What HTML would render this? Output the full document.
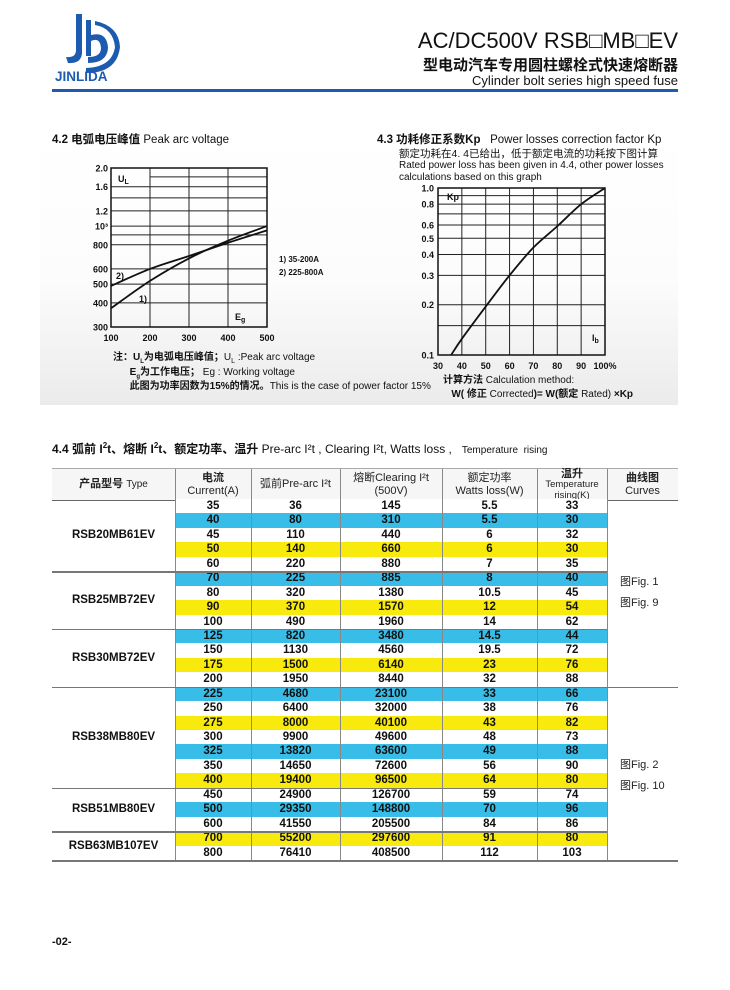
<!DOCTYPE html>
<html><head><meta charset="utf-8">
<style>
body{margin:0;background:#fff;}
#page{position:relative;width:730px;height:990px;overflow:hidden;background:#fff;font-family:"Liberation Sans","Noto Sans CJK SC",sans-serif;color:#111;}
.a{position:absolute;white-space:nowrap;}
sub{line-height:0;}
</style></head><body>
<div id="page">
<svg class="a" style="left:0;top:0" width="730" height="130">
 <g fill="#1d5bb0">
  <rect x="76" y="14" width="6" height="40"/>
  <path d="M82 52 Q82 64 68 63 L66 57 Q76 58 76 50 Z"/>
  <rect x="86" y="20" width="5" height="36"/>
  <path d="M91 35 Q107 31 108 48 Q107 63 88 63 L88 57 Q101 57 101 48 Q100 37 91 41 Z"/>
  <path d="M86 68 Q112 67 115 47 Q113 28 95 25 L95 21 Q119 26 120 47 Q117 73 86 73 Z"/>
 </g>
 <text x="55" y="81" font-family="Liberation Sans" font-weight="bold" font-size="13.5" fill="#1d5bb0">JINLIDA</text>
 <rect x="52" y="89" width="626" height="3" fill="#1d5bb0"/>
</svg>
<div class="a" style="right:52px;top:28px;font-size:22px;">AC/DC500V RSB□MB□EV</div>
<div class="a" style="right:52px;top:54px;font-size:15px;font-weight:bold;">型电动汽车专用圆柱螺栓式快速熔断器</div>
<div class="a" style="right:52px;top:73px;font-size:13px;">Cylinder bolt series high speed fuse</div>

<div class="a" style="left:40px;top:128px;width:638px;height:277px;background:linear-gradient(#fff 0%,#fcfcfc 55%,#ebebeb 100%);"></div>

<div class="a" style="left:52px;top:131px;font-size:11.5px;"><b>4.2 电弧电压峰值</b> Peak arc voltage</div>
<div class="a" style="left:377px;top:131px;font-size:11.5px;"><b>4.3 功耗修正系数Kp</b>&nbsp;&nbsp; Power losses correction factor Kp</div>
<div class="a" style="left:399px;top:146px;font-size:10.5px;">额定功耗在4. 4已给出，低于额定电流的功耗按下图计算</div>
<div class="a" style="left:399px;top:160px;font-size:10px;line-height:11.5px;">Rated power loss has been given in 4.4, other power losses<br>calculations based on this graph</div>

<svg class="a" id="charts" style="left:0;top:0" width="730" height="410"></svg>

<div class="a" style="left:113px;top:351px;font-size:10px;line-height:14.5px;"><b>注：U<sub style="font-size:6px">L</sub>为电弧电压峰值；</b>U<sub style="font-size:7px">L</sub> :Peak arc voltage<br>&nbsp;&nbsp;&nbsp;&nbsp;&nbsp;&nbsp;<b>E<sub style="font-size:6px">g</sub>为工作电压；</b> Eg : Working voltage<br>&nbsp;&nbsp;&nbsp;&nbsp;&nbsp;&nbsp;<b>此图为功率因数为15%的情况。</b>This is the case of power factor 15%</div>
<div class="a" style="left:443px;top:374px;font-size:10px;line-height:14px;"><b>计算方法</b> Calculation method:<br>&nbsp;&nbsp;&nbsp;<b>W( 修正</b> Corrected<b>)= W(额定</b> Rated) <b>×Kp</b></div>

<div class="a" style="left:52px;top:440px;font-size:12px;"><b>4.4 弧前 I<sup style="font-size:8px;line-height:0">2</sup>t、熔断 I<sup style="font-size:8px;line-height:0">2</sup>t、额定功率、温升</b> Pre-arc I²t , Clearing I²t, Watts loss ,&nbsp;&nbsp; <span style="font-size:10px">Temperature&nbsp; rising</span></div>

<div id="table" class="a" style="left:0;top:0;width:730px;height:990px;"></div>

<div class="a" style="left:52px;top:936px;font-size:11px;font-weight:bold;">-02-</div>
</div>
<script>
// ---- Chart 4.2 data ----
const arcEg = [100,200,300,400,500];
const arcCurve1 = [375,520,680,840,1000];
const arcCurve2 = [490,600,700,820,950];
const arcYTicks = [300,400,500,600,800,1000,1200,1600,2000];
const arcYTickLabels = ["300","400","500","600","800","10³","1.2","1.6","2.0"];
const arcXTicks = [100,200,300,400,500];
// ---- Chart 4.3 data ----
const kpX = [35.5,40,50,60,70,80,90,100];
const kpY = [0.1,0.125,0.195,0.30,0.44,0.59,0.80,1.0];
const kpXTicks = [30,40,50,60,70,80,90,100];
const kpXTickLabels = ["30","40","50","60","70","80","90","100%"];
const kpYTicks = [0.1,0.2,0.3,0.4,0.5,0.6,0.8,1.0];
const kpYTickLabels = ["0.1","0.2","0.3","0.4","0.5","0.6","0.8","1.0"];

const NS="http://www.w3.org/2000/svg";
const svg=document.getElementById('charts');
function mk(t,at,parent){const e=document.createElementNS(NS,t);for(const k in at)e.setAttribute(k,at[k]);(parent||svg).appendChild(e);return e;}
function txt(x,y,s,size,anchor,bold){const e=mk('text',{x:x,y:y,'font-size':size,'text-anchor':anchor||'start','font-family':'Liberation Sans, sans-serif','font-weight':bold?'bold':'normal',fill:'#111'});e.textContent=s;return e;}

const A={x0:111,x1:267,y0:327,y1:168,vmin:300,vmax:2000,emin:100,emax:500};
const ax=v=>A.x0+(v-A.emin)/(A.emax-A.emin)*(A.x1-A.x0);
const ay=v=>A.y0-Math.log10(v/A.vmin)/Math.log10(A.vmax/A.vmin)*(A.y0-A.y1);
[400,500,600,800,900,1000,1200,1400,1600].forEach(v=>{
 const l=mk('line',{x1:A.x0,x2:A.x1,y1:ay(v),y2:ay(v),stroke:'#222','stroke-width':1});
 
 
});
const g18=mk('line',{x1:ax(200),x2:A.x1,y1:ay(1800),y2:ay(1800),stroke:'#222','stroke-width':1});


[200,300,400].forEach(v=>{
 const l=mk('line',{x1:ax(v),x2:ax(v),y1:A.y0,y2:A.y1,stroke:'#222','stroke-width':1});
 
 
});
const f1=mk('rect',{x:A.x0,y:A.y1,width:A.x1-A.x0,height:A.y0-A.y1,fill:'none',stroke:'#111','stroke-width':1.5});


arcYTicks.forEach((v,i)=>{const t=txt(A.x0-3,ay(v)+3.5,arcYTickLabels[i],9,'end',true);
 
 });
arcXTicks.forEach(v=>{const t=txt(ax(v),A.y0+14,String(v),9,'middle',true);
 
 });
function smooth(pts){let d='M'+pts[0][0]+' '+pts[0][1];for(let i=0;i<pts.length-1;i++){const p0=pts[i-1]||pts[i],p1=pts[i],p2=pts[i+1],p3=pts[i+2]||p2;
 d+=' C'+(p1[0]+(p2[0]-p0[0])/6)+' '+(p1[1]+(p2[1]-p0[1])/6)+' '+(p2[0]-(p3[0]-p1[0])/6)+' '+(p2[1]-(p3[1]-p1[1])/6)+' '+p2[0]+' '+p2[1];}return d;}
const c1=mk('path',{d:smooth(arcEg.map((e,i)=>[ax(e),ay(arcCurve1[i])])),fill:'none',stroke:'#111','stroke-width':1.8});


const c2=mk('path',{d:smooth(arcEg.map((e,i)=>[ax(e),ay(arcCurve2[i])])),fill:'none',stroke:'#111','stroke-width':1.8});


let t;
t=txt(118,182,'U',9,'start',true);t.innerHTML='U<tspan font-size="7" dy="2">L</tspan>';


t=txt(235,320,'E',9,'start',true);t.innerHTML='E<tspan font-size="7" dy="2">g</tspan>';


t=txt(116,279,'2)',9,'start',true);


t=txt(139,302,'1)',9,'start',true);


t=txt(279,262,'1) 35-200A',8,'start',true);


t=txt(279,275,'2) 225-800A',8,'start',true);



const B={x0:438,x1:605,y0:355,y1:188,xmin:30,xmax:100,ymin:0.1,ymax:1};
const bx=v=>B.x0+(v-B.xmin)/(B.xmax-B.xmin)*(B.x1-B.x0);
const by=v=>B.y0-Math.log10(v/B.ymin)/Math.log10(B.ymax/B.ymin)*(B.y0-B.y1);
[0.15,0.2,0.3,0.4,0.5,0.6,0.7,0.8,0.9].forEach(v=>{
 const l=mk('line',{x1:B.x0,x2:B.x1,y1:by(v),y2:by(v),stroke:'#222','stroke-width':1});
 
 
});
[40,50,60,70,80,90].forEach(v=>{
 const l=mk('line',{x1:bx(v),x2:bx(v),y1:B.y0,y2:B.y1,stroke:'#222','stroke-width':1});
 
 
});
const f2=mk('rect',{x:B.x0,y:B.y1,width:B.x1-B.x0,height:B.y0-B.y1,fill:'none',stroke:'#111','stroke-width':1.5});


kpYTicks.forEach((v,i)=>{const t=txt(B.x0-4,by(v)+3.5,kpYTickLabels[i],9,'end',true);
 
 });
kpXTicks.forEach((v,i)=>{const t=txt(bx(v),B.y0+14,kpXTickLabels[i],9,'middle',true);
 
 });
const c3=mk('path',{d:smooth(kpX.map((x,i)=>[bx(x),by(kpY[i])])),fill:'none',stroke:'#111','stroke-width':1.8});


t=txt(447,200,'Kp',9,'start',true);


t=txt(592,341,'I',9,'start',true);t.innerHTML='I<tspan font-size="7" dy="2">b</tspan>';



// ---- Table ----
const rowsCurrent=[35,40,45,50,60,70,80,90,100,125,150,175,200,225,250,275,300,325,350,400,450,500,600,700,800];
const rowsPre=[36,80,110,140,220,225,320,370,490,820,1130,1500,1950,4680,6400,8000,9900,13820,14650,19400,24900,29350,41550,55200,76410];
const rowsClear=[145,310,440,660,880,885,1380,1570,1960,3480,4560,6140,8440,23100,32000,40100,49600,63600,72600,96500,126700,148800,205500,297600,408500];
const rowsWatts=["5.5","5.5","6","6","7","8","10.5","12","14","14.5","19.5","23","32","33","38","43","48","49","56","64","59","70","84","91","112"];
const rowsTemp=[33,30,32,30,35,40,45,54,62,44,72,76,88,66,76,82,73,88,90,80,74,96,86,80,103];
const rowColor="wbwywbwywbwywbwywbwywbwyw";
const groups=[["RSB20MB61EV",0,5],["RSB25MB72EV",5,9],["RSB30MB72EV",9,13],["RSB38MB80EV",13,20],["RSB51MB80EV",20,23],["RSB63MB107EV",23,25]];
const tb=document.getElementById('table');
const colX=[52,175,251,340,442,537,607,678];
const top0=499,rh=14.44;
function div(css,html){const d=document.createElement('div');d.className='a';d.style.cssText=css;if(html!==undefined)d.innerHTML=html;tb.appendChild(d);return d;}
let d;
d=div('left:52px;top:468px;width:626px;height:31px;background:#f6f6f6;border-top:1px solid #aaa;border-bottom:1.5px solid #666;');


const heads=[
 ['<b>产品型号</b> <span style="font-size:10px">Type</span>',0],
 ['<b>电流</b><br>Current(A)',3],
 ['弧前Pre-arc I²t',9],
 ['熔断Clearing I²t<br>(500V)',3],
 ['额定功率<br>Watts loss(W)',3],
 ['<b>温升</b><br><span style="font-size:9.5px">Temperature<br>rising(K)</span>',0],
 ['<b>曲线图</b><br>Curves',3]];
heads.forEach((h,i)=>{
 const lh=(i==0)?'31px':(i==5?'10px':'12.5px');
 const c=div('left:'+colX[i]+'px;top:'+(469+h[1])+'px;width:'+(colX[i+1]-colX[i])+'px;text-align:center;font-size:11px;line-height:'+lh+';color:#222;white-space:normal;',h[0]);
 
 
});
rowsCurrent.forEach((v,i)=>{
 const y=top0+i*rh;
 const col=rowColor[i]=='b'?'#37bde8':rowColor[i]=='y'?'#f8ea0c':'#fff';
 const r=div('left:175px;top:'+y+'px;width:432px;height:'+rh+'px;background:'+col+';');
 
 
 const vals=[v,rowsPre[i],rowsClear[i],rowsWatts[i],rowsTemp[i]];
 vals.forEach((s,j)=>{
  const c=div('left:'+colX[j+1]+'px;top:'+y+'px;width:'+(colX[j+2]-colX[j+1])+'px;height:'+rh+'px;text-align:center;font-size:11.5px;line-height:'+rh+'px;font-weight:bold;color:#111;',String(s));
  
  
 });
});
for(let j=1;j<7;j++){
 const l=div('left:'+colX[j]+'px;top:469px;width:1px;height:'+(25*rh+31)+'px;background:#888;');
 
 
}
groups.forEach((g,gi)=>{
 const y=top0+g[1]*rh,h=(g[2]-g[1])*rh;
 const c=div('left:52px;top:'+(y+h/2-8)+'px;width:123px;height:16px;line-height:16px;text-align:center;font-size:11.5px;font-weight:bold;',g[0]);
 
 
 const full=(gi==2||gi==5);
 const l=div('left:52px;top:'+(y+h)+'px;width:'+(full?626:555)+'px;height:1.5px;background:#777;');
 
 
});
d=div('left:620px;top:572px;font-size:11px;line-height:21px;color:#222;','图Fig. 1<br>图Fig. 9');


d=div('left:620px;top:755px;font-size:11px;line-height:21px;color:#222;','图Fig. 2<br>图Fig. 10');


</script>
</body></html>
